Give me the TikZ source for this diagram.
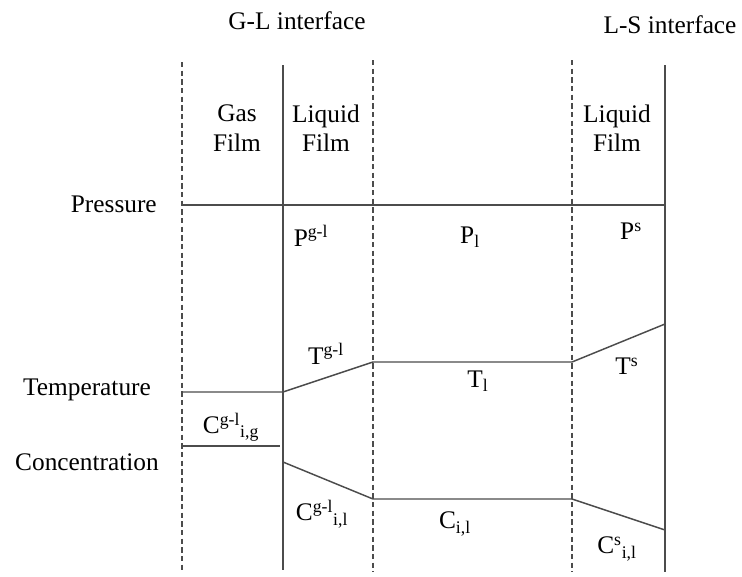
\documentclass[tikz,border=0pt]{standalone}
\usepackage{fontspec}
\setmainfont{Liberation Serif}
\begin{document}
\begin{tikzpicture}[x=0.75pt,y=-0.75pt,
  lbl/.style={inner sep=0pt,font=\fontsize{19}{22}\selectfont,align=center},
  solidln/.style={draw=black!70,line width=1.1pt},
  dashln/.style={draw=black!70,line width=1.1pt,dash pattern=on 4pt off 2.5pt}]
\useasboundingbox (0,0) rectangle (742,576);
% vertical boundaries
\coordinate (d1t) at (182,62); \coordinate (d1b) at (182,572);
\coordinate (s1t) at (283,65); \coordinate (s1b) at (283,570);
\coordinate (d2t) at (373,60); \coordinate (d2b) at (373,572);
\coordinate (d3t) at (572,60); \coordinate (d3b) at (572,572);
\coordinate (s2t) at (665,65); \coordinate (s2b) at (665,572);
\draw[dashln] (d1t) -- (d1b);
\draw[solidln] (s1t) -- (s1b);
\draw[dashln] (d2t) -- (d2b);
\draw[dashln] (d3t) -- (d3b);
\draw[solidln] (s2t) -- (s2b);
% pressure
\coordinate (p0) at (182,205); \coordinate (p1) at (665,205);
\draw[solidln] (p0) -- (p1);
% temperature
\coordinate (t0) at (182,392); \coordinate (t1) at (283,392);
\coordinate (t2) at (373,362); \coordinate (t3) at (572,362);
\coordinate (t4) at (665,324);
\draw[solidln] (t0) -- (t1) -- (t2) -- (t3) -- (t4);
% concentration
\coordinate (c0) at (182,446); \coordinate (c1) at (280,446);
\draw[solidln] (c0) -- (c1);
\coordinate (c2) at (283,462); \coordinate (c3) at (373,499);
\coordinate (c4) at (572,499); \coordinate (c5) at (665,530);
\draw[solidln] (c2) -- (c3) -- (c4) -- (c5);
% labels
\node[lbl] (gl) at (297,21) {G-L interface};
\node[lbl] (ls) at (670,25) {L-S interface};
\node[lbl] (gas) at (237,128) {Gas\\Film};
\node[lbl] (liq1) at (326,128) {Liquid\\Film};
\node[lbl] (liq2) at (617,128) {Liquid\\Film};
\node[lbl,anchor=east] (pres) at (157,204) {Pressure};
\node[lbl] (temp) at (87,390) {Temperature};
\node[lbl] (conc) at (87,462) {Concentration};
\node[lbl] (pgl) at (311,236) {P\textsuperscript{g-l}};
\node[lbl] (pl) at (470,237) {P\textsubscript{l}};
\node[lbl] (ps) at (631,231) {P\textsuperscript{s}};
\node[lbl] (tgl) at (326,354) {T\textsuperscript{g-l}};
\node[lbl] (tl) at (478,381) {T\textsubscript{l}};
\node[lbl] (ts) at (627,366) {T\textsuperscript{s}};
\node[lbl] (cgig) at (231,427) {C\textsuperscript{g-l}\textsubscript{i,g}};
\node[lbl] (cgil) at (322,514) {C\textsuperscript{g-l}\textsubscript{i,l}};
\node[lbl] (cil) at (455,524) {C\textsubscript{i,l}};
\node[lbl] (csil) at (617,549) {C\textsuperscript{s}\textsubscript{i,l}};
\end{tikzpicture}
\end{document}
